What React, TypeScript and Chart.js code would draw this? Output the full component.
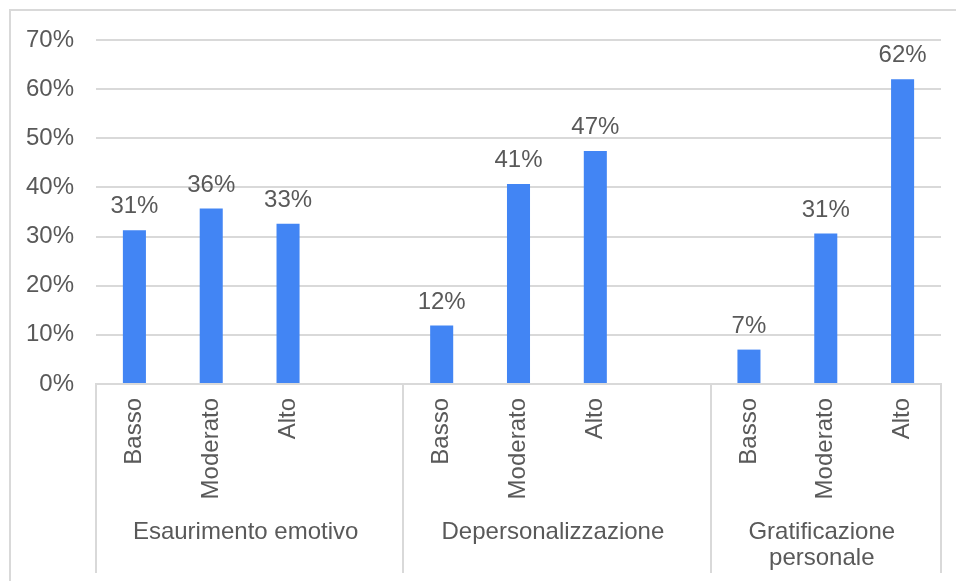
import React, { useEffect, useRef } from "react";
import { Chart, registerables } from "chart.js";

Chart.register(...registerables);

const levels = ["Basso", "Moderato", "Alto"];
const groupNames: (string | string[])[] = [
  "Esaurimento emotivo",
  "Depersonalizzazione",
  ["Gratificazione", "personale"],
];
const esaurimento = [31.3, 35.7, 32.6];
const depersonalizzazione = [11.9, 40.7, 47.4];
const gratificazione = [7.0, 30.6, 62.0];
const yTicks = [0, 10, 20, 30, 40, 50, 60, 70];

const groupValues = [esaurimento, depersonalizzazione, gratificazione];

// build category list with spacer slots between groups
const labels: string[] = [];
const data: (number | null)[] = [];
const groupSpans: [number, number][] = [];
groupValues.forEach((vals, gi) => {
  const start = labels.length;
  levels.forEach((lv, i) => {
    labels.push(lv);
    data.push(vals[i]);
  });
  if (gi < groupValues.length - 1) {
    labels.push("");
    data.push(null);
  }
  groupSpans.push([start, labels.length - 1]);
});

const FONT = "'Liberation Sans', Arial, sans-serif";
const TEXT = "#595959";
const LINE = "#d9d9d9";
const BLUE = "#4285f4";
const FS = 24;

const decorPlugin = {
  id: "decor",
  beforeDraw(chart: any) {
    const ctx = chart.ctx;
    ctx.save();
    ctx.strokeStyle = LINE;
    ctx.lineWidth = 2;
    ctx.beginPath();
    ctx.moveTo(10, 581);
    ctx.lineTo(10, 10);
    ctx.lineTo(956, 10);
    ctx.stroke();
    ctx.restore();
  },
  afterDatasetsDraw(chart: any) {
    const ctx = chart.ctx;
    const xs = chart.scales.x;
    const area = chart.chartArea;
    ctx.save();
    // value labels
    ctx.font = `${FS}px ${FONT}`;
    ctx.fillStyle = TEXT;
    ctx.textAlign = "center";
    ctx.textBaseline = "alphabetic";
    const meta = chart.getDatasetMeta(0);
    meta.data.forEach((bar: any, i: number) => {
      const v = data[i];
      if (v === null || v === undefined) return;
      ctx.fillText(Math.round(v) + "%", bar.x, bar.y - 17);
    });
    // group separators and labels
    const n = labels.length;
    const step = (area.right - area.left) / n;
    const boundaries: number[] = [];
    groupSpans.forEach(([s], gi) => {
      boundaries.push(area.left + s * step);
    });
    boundaries.push(area.right);
    ctx.strokeStyle = LINE;
    ctx.lineWidth = 2;
    boundaries.forEach((bx) => {
      ctx.beginPath();
      ctx.moveTo(Math.round(bx), area.bottom);
      ctx.lineTo(Math.round(bx), 573);
      ctx.stroke();
    });
    groupSpans.forEach(([s, e], gi) => {
      const left = boundaries[gi];
      const right = boundaries[gi + 1];
      const cx = (left + right) / 2 - 4;
      const name = groupNames[gi];
      const lines = Array.isArray(name) ? name : [name];
      ctx.textBaseline = "middle";
      lines.forEach((ln, li) => {
        ctx.fillText(ln, cx, 532 + li * 26);
      });
    });
    ctx.restore();
  },
};

export default function App() {
  const ref = useRef<HTMLCanvasElement>(null);
  useEffect(() => {
    if (!ref.current) return;
    const chart = new Chart(ref.current, {
      type: "bar",
      data: {
        labels,
        datasets: [
          {
            data,
            backgroundColor: BLUE,
            borderWidth: 0,
            categoryPercentage: 1,
            barPercentage: 0.3,
          },
        ],
      },
      options: {
        animation: false,
        responsive: false,
        events: [],
        layout: { padding: { top: 40, right: 15, left: 0, bottom: 0 } },
        plugins: { legend: { display: false }, tooltip: { enabled: false } },
        scales: {
          x: {
            grid: { display: false, drawTicks: false },
            border: { display: true, color: LINE, width: 2 },
            ticks: {
              autoSkip: false,
              minRotation: 90,
              maxRotation: 90,
              padding: 14,
              color: TEXT,
              font: { size: FS, family: FONT },
            },
            afterFit: (scale: any) => {
              scale.height = 197;
            },
          },
          y: {
            min: 0,
            max: 70,
            afterBuildTicks: (scale: any) => {
              scale.ticks = yTicks.map((v) => ({ value: v }));
            },
            grid: { color: LINE, lineWidth: 2, drawTicks: false },
            border: { display: false },
            ticks: {
              padding: 22,
              color: TEXT,
              font: { size: FS, family: FONT },
              callback: (v: any) => v + "%",
            },
            afterFit: (scale: any) => {
              scale.width = 96;
            },
          },
        },
      },
      plugins: [decorPlugin],
    });
    return () => chart.destroy();
  }, []);
  return (
    <div style={{ position: "absolute", left: 0, top: 0, width: 956, height: 581, background: "#fff" }}>
      <canvas ref={ref} width={956} height={581} style={{ display: "block" }} />
    </div>
  );
}
